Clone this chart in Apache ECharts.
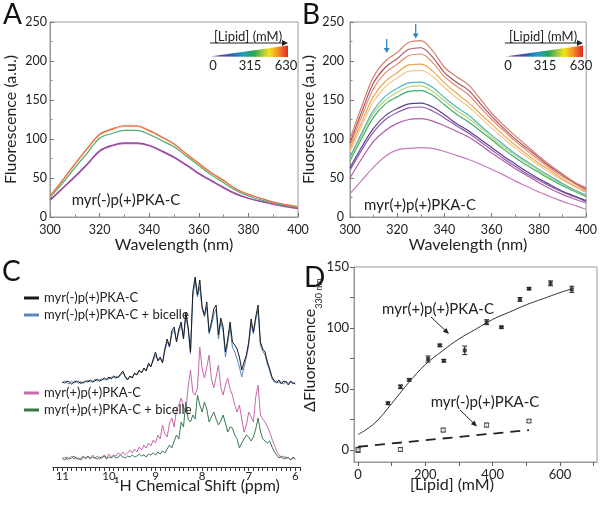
<!DOCTYPE html>
<html><head><meta charset="utf-8">
<script src="https://cdn.jsdelivr.net/npm/echarts@6/dist/echarts.min.js"></script>
<style>html,body{margin:0;padding:0;background:#fff}#c{width:600px;height:505px}</style>
</head><body><div id="c"></div>
<script>
// ---------- Panel A / B : fluorescence spectra ----------
const wavelengths = [300,305,310,315,320,325,330,335,340,345,350,355,360,365,370,375,380,385,390,395,400];
const aRed     = [27,47,68,88,106,113,117,117,111,103,94,81,69,57,47,36,29,24,19,16,13];
const aOrange  = [26,46,67,87,105,112,116,116,110,102,93,80,68,56,46,36,29,24,19,16,13];
const aGreen   = [25,43,63,82,101,107,111,111,106,98,90,78,66,54,44,34,27,22,18,15,12];
const aPurple  = [22,37,52,68,85,92,95,95,92,85,77,67,56,47,38,30,24,20,17,14,11];
const aMagenta = [21,36,51,67,84,91,94,94,91,84,76,66,55,46,37,29,24,20,16,13,11];

const bC1  = [100,142,180,200,211,224,226,213,192,180,170,152,133,118,104,91,78,66,55,45,38];
const bC2  = [95,135,172,192,203,215,217,205,185,173,163,146,129,114,100,88,76,64,54,44,36];
const bC3  = [91,129,165,185,196,207,209,198,180,168,157,141,125,111,97,85,73,62,52,43,34];
const bC4  = [87,122,155,174,185,195,196,187,172,159,147,133,119,105,92,80,69,59,49,40,32];
const bC5  = [83,117,148,167,178,187,188,180,166,153,142,128,114,101,88,77,66,56,47,39,31];
const bC6  = [77,108,137,155,165,172,173,166,153,141,131,118,105,93,81,71,61,52,43,35,28];
const bC7  = [75,105,133,150,160,167,168,161,149,137,127,115,102,90,79,69,59,50,42,34,27];
const bC8  = [72,101,128,145,154,161,162,156,144,132,122,111,99,87,76,66,57,48,40,33,26];
const bC9  = [63,90,114,130,139,145,146,141,131,120,111,100,89,78,68,58,49,41,33,27,21];
const bC10 = [60,86,109,125,134,140,141,136,127,117,108,97,86,75,65,55,47,39,32,26,20];
const bC11 = [50,75,97,111,120,125,126,123,117,110,103,93,82,72,62,53,44,36,29,23,18];
const bC12 = [30,47,64,78,86,88,89,88,84,79,74,68,61,54,46,39,32,26,20,15,10];

const colorbarLabels = ['0','315','630'];

// ---------- Panel C : 1H NMR spectra ----------
const ppm = [11,10.95,10.9,10.85,10.8,10.75,10.7,10.65,10.6,10.55,10.5,10.45,10.4,10.35,10.3,10.25,10.2,10.15,10.1,10.05,10,9.95,9.9,9.85,9.8,9.75,9.7,9.65,9.6,9.55,9.5,9.45,9.4,9.35,9.3,9.25,9.2,9.15,9.1,9.05,9,8.95,8.9,8.85,8.8,8.75,8.7,8.65,8.6,8.55,8.5,8.45,8.4,8.35,8.3,8.25,8.2,8.15,8.1,8.05,8,7.95,7.9,7.85,7.8,7.75,7.7,7.65,7.6,7.55,7.5,7.45,7.4,7.35,7.3,7.25,7.2,7.15,7.1,7.05,7,6.95,6.9,6.85,6.8,6.75,6.7,6.65,6.6,6.55,6.5,6.45,6.4,6.35,6.3,6.25,6.2,6.15,6.1,6.05,6];
const nmrMyrMinus = [85,84,86,85,83,85,86,84,85,84,86,85,87,85,86,88,86,87,89,87,90,88,91,89,90,93,96,90,87,91,89,94,92,97,94,99,96,104,100,108,115,106,110,104,118,128,120,136,140,125,138,145,128,155,140,115,175,190,172,187,160,152,165,135,145,158,162,132,149,140,115,128,145,125,122,118,110,97,105,112,125,148,135,150,162,125,118,115,105,98,90,86,84,87,83,86,85,82,86,84,83];
const nmrMyrMinusBicelle = [84,86,84,83,86,84,85,86,83,85,85,87,85,86,88,86,87,88,87,89,88,90,89,91,89,92,94,91,88,90,90,93,93,96,95,98,97,102,101,106,112,107,108,105,116,125,121,133,137,126,135,142,129,150,138,113,170,186,170,180,158,150,160,133,142,152,158,128,145,136,110,124,140,120,115,108,100,90,100,110,122,143,133,147,157,122,116,112,103,96,88,85,86,84,85,83,86,84,85,83,85];
const nmrMyrPlus = [8,10,7,9,11,8,10,7,9,11,8,10,9,12,9,11,8,10,12,9,13,10,12,11,14,12,15,12,14,17,14,18,15,20,17,22,19,24,21,27,24,32,28,42,33,30,44,49,40,58,62,69,60,55,80,97,75,72,79,120,98,89,100,112,88,79,90,102,80,72,82,89,78,72,62,55,62,48,35,42,55,50,45,70,82,52,48,45,40,35,28,22,16,12,9,11,8,10,7,9,8];
const nmrMyrPlusBicelle = [9,7,10,8,9,11,8,9,7,10,9,11,8,10,9,8,10,9,11,8,10,9,11,9,10,12,10,9,11,10,12,10,11,13,11,12,10,13,12,14,12,15,13,16,14,18,22,19,26,32,28,45,40,65,48,45,52,48,72,62,55,65,58,45,50,55,48,42,46,52,44,35,40,39,32,28,19,24,28,32,30,26,30,38,49,36,28,26,24,26,20,15,12,9,11,8,10,9,7,10,8];
const ppmTickLabels = [6,7,8,9,10,11];
const cLegendTop = ['myr(-)p(+)PKA-C','myr(-)p(+)PKA-C + bicelle'];
const cLegendBottom = ['myr(+)p(+)PKA-C','myr(+)p(+)PKA-C + bicelle'];

// ---------- Panel D : titration ----------
const dPlusX   = [0,89,126,152,208,243,255,317,382,426,481,508,572,635];
const dPlusY   = [0,38.2,51.7,57.4,74.5,85.7,73.1,81.6,104.7,100.6,123.4,132.2,136.6,131.7];
const dPlusErr = [1.5,1,1.5,1,2.5,1,1,3.5,2,0.8,1.5,0.8,2,2.5];
const dMinusX   = [0,126,253,382,508];
const dMinusY   = [0,0.3,16.2,20.3,23.6];
const dMinusErr = [2,1.5,1.5,1.5,1.2];
const dFitX = [0,50,100,150,200,250,300,350,400,450,500,550,600,635];
const dFitY = [12.5,22,38,55,70,81,91,99,107,113,119,124,129,132];
const dLinX = [0,508];
const dLinY = [2.5,16.2];
const dXLabels = [0,200,400,600];
const dXTicks = [0,100,200,300,400,500,600,700];
const dYLabels = [0,50,100,150];
const dYTicks = [0,25,50,75,100,125,150];

// ---------------------------------------------------------
const FONT = "Lato, 'Open Sans', sans-serif";
const chart = echarts.init(document.getElementById('c'), null, {renderer:'canvas'});

function pairs(xs, ys){ return xs.map((x,i)=>[x, ys[i]]); }

function specAxisX(gi){
  return {type:'value', gridIndex:gi, min:300, max:400, interval:20,
    axisLine:{show:true, lineStyle:{color:'#999', width:1}},
    axisTick:{inside:true, length:4, lineStyle:{color:'#777'}},
    minorTick:{show:true, splitNumber:2, length:2.5, lineStyle:{color:'#888'}},
    splitLine:{show:false},
    axisLabel:{color:'#222', fontSize:12.5, fontFamily:FONT, margin:6},
    name:'Wavelength (nm)', nameLocation:'middle', nameGap:19,
    nameTextStyle:{fontSize:16, color:'#222', fontFamily:FONT}};
}
function specAxisY(gi, gap, margin){
  return {type:'value', gridIndex:gi, min:0, max:250, interval:50,
    axisLine:{show:true, lineStyle:{color:'#999', width:1}},
    axisTick:{inside:true, length:4, lineStyle:{color:'#777'}},
    minorTick:{show:true, splitNumber:2, length:2.5, lineStyle:{color:'#888'}},
    splitLine:{show:false},
    axisLabel:{color:'#222', fontSize:12.5, fontFamily:FONT, margin:margin},
    name:'Fluorescence (a.u.)', nameLocation:'middle', nameGap:gap,
    nameTextStyle:{fontSize:16, color:'#222', fontFamily:FONT}};
}
function specLine(gi, xs, ys, color){
  return {type:'line', xAxisIndex:gi, yAxisIndex:gi, data:pairs(xs, ys), smooth:0.35,
    showSymbol:false, silent:true, lineStyle:{color:color, width:1.2}, itemStyle:{color:color}};
}
function nmrLine(name, ys, color){
  return {name:name, type:'line', xAxisIndex:2, yAxisIndex:2, data:pairs(ppm, ys),
    showSymbol:false, silent:true, lineStyle:{color:color, width:1}, itemStyle:{color:color}};
}

function arrow(x1,y1,x2,y2,color,hl,hw,lw){
  const a = Math.atan2(y2-y1, x2-x1);
  const bx = x2 - hl*Math.cos(a), by = y2 - hl*Math.sin(a);
  const px = -Math.sin(a)*hw, py = Math.cos(a)*hw;
  return [
    {type:'line', shape:{x1:x1,y1:y1,x2:bx+Math.cos(a)*1,y2:by+Math.sin(a)*1}, style:{stroke:color, lineWidth:lw}},
    {type:'polygon', shape:{points:[[x2,y2],[bx+px,by+py],[bx-px,by-py]]}, style:{fill:color}}
  ];
}
function colorbar(dx){
  const grad = new echarts.graphic.LinearGradient(0,0,1,0,[
    {offset:0, color:'#c9b3d6'},{offset:0.1, color:'#6a3f95'},{offset:0.28, color:'#2b5fae'},
    {offset:0.42, color:'#1f9fc0'},{offset:0.56, color:'#27a454'},{offset:0.68, color:'#a6cc3a'},
    {offset:0.76, color:'#f2e31b'},{offset:0.86, color:'#f39a25'},{offset:1, color:'#e42527'}]);
  const els = [
    {type:'text', x:248+dx, y:37, style:{text:'[Lipid] (mM)', fontSize:13, fontFamily:FONT, fill:'#222', align:'center', verticalAlign:'middle'}},
    {type:'polygon', shape:{points:[[210+dx,56.5],[288+dx,45.5],[288+dx,57]]}, style:{fill:grad}},
    {type:'text', x:213+dx, y:65.5, style:{text:colorbarLabels[0], fontSize:13, fontFamily:FONT, fill:'#222', align:'center', verticalAlign:'middle'}},
    {type:'text', x:250+dx, y:65.5, style:{text:colorbarLabels[1], fontSize:13, fontFamily:FONT, fill:'#222', align:'center', verticalAlign:'middle'}},
    {type:'text', x:286+dx, y:65.5, style:{text:colorbarLabels[2], fontSize:13, fontFamily:FONT, fill:'#222', align:'center', verticalAlign:'middle'}}
  ];
  return els.concat(arrow(210+dx,43,288+dx,43,'#222',6,3,1));
}
function panelLetter(t,x,y){
  return {type:'text', x:x, y:y, style:{text:t, fontSize:28, fontFamily:FONT, fill:'#111', align:'left', verticalAlign:'middle'}};
}

const errBars = (xs, ys, es) => ({
  type:'custom', xAxisIndex:3, yAxisIndex:3, silent:true,
  data: xs.map((x,i)=>[x, ys[i], es[i]]), encode:{x:0, y:1},
  renderItem(params, api){
    const x = api.value(0), y = api.value(1), e = api.value(2);
    const hi = api.coord([x, y+e]), lo = api.coord([x, y-e]);
    const w = 2.5, st = {stroke:'#222', lineWidth:1};
    return {type:'group', children:[
      {type:'line', shape:{x1:hi[0],y1:hi[1],x2:lo[0],y2:lo[1]}, style:st},
      {type:'line', shape:{x1:hi[0]-w,y1:hi[1],x2:hi[0]+w,y2:hi[1]}, style:st},
      {type:'line', shape:{x1:lo[0]-w,y1:lo[1],x2:lo[0]+w,y2:lo[1]}, style:st}
    ]};
  }
});

const ppmTicks = (function(){const t=[];for(let k=59;k<=112;k++)t.push(k/10);return t;})();

const legendBase = {orient:'vertical', itemWidth:15, itemHeight:3, itemGap:3, icon:'rect', padding:0,
  selectedMode:false, textStyle:{fontFamily:FONT, fontSize:13, color:'#222', lineHeight:14}};

const option = {
  animation:false,
  backgroundColor:'#fff',
  textStyle:{fontFamily:FONT},
  legend:[
    Object.assign({}, legendBase, {data:cLegendTop, left:24, top:291}),
    Object.assign({}, legendBase, {data:cLegendBottom, left:24, top:386})
  ],
  grid:[
    {left:50, top:22, right:302, bottom:288, show:true, borderColor:'#999', borderWidth:1, backgroundColor:'transparent'},
    {left:350, top:22, right:8, bottom:288, show:true, borderColor:'#999', borderWidth:1, backgroundColor:'transparent'},
    {left:53, top:267, right:300, bottom:38},
    {left:354, top:267, right:3, bottom:43, show:true, borderColor:'#999', borderWidth:1, backgroundColor:'transparent'}
  ],
  xAxis:[
    specAxisX(0),
    specAxisX(1),
    {type:'value', gridIndex:2, min:5.9, max:11.2, inverse:true, position:'bottom',
      axisLine:{show:true, onZero:false, lineStyle:{color:'#333', width:1}},
      axisTick:{show:true, inside:false, length:4, lineStyle:{color:'#333'}, customValues:ppmTicks},
      axisLabel:{customValues:ppmTickLabels, color:'#222', fontSize:11.5, fontFamily:FONT, margin:3},
      splitLine:{show:false}},
    {type:'value', gridIndex:3, min:-12, max:710,
      axisLine:{show:true, onZero:false, lineStyle:{color:'#999'}},
      axisTick:{show:true, inside:false, length:4, lineStyle:{color:'#666'}, customValues:dXTicks},
      axisLabel:{customValues:dXLabels, color:'#222', fontSize:13, fontFamily:FONT, margin:6},
      splitLine:{show:false}}
  ],
  yAxis:[
    specAxisY(0, 31, 3),
    specAxisY(1, 33, 6),
    {type:'value', gridIndex:2, min:0, max:200, show:false},
    {type:'value', gridIndex:3, min:-10, max:150,
      axisLine:{show:true, onZero:false, lineStyle:{color:'#999'}},
      axisTick:{show:true, inside:false, length:4, lineStyle:{color:'#666'}, customValues:dYTicks},
      axisLabel:{customValues:dYLabels, color:'#222', fontSize:13, fontFamily:FONT, margin:5},
      splitLine:{show:false}}
  ],
  series:[
    specLine(0, wavelengths, aMagenta, '#c45db3'),
    specLine(0, wavelengths, aPurple,  '#8a4aa0'),
    specLine(0, wavelengths, aGreen,   '#4bab72'),
    specLine(0, wavelengths, aOrange,  '#f0b05a'),
    specLine(0, wavelengths, aRed,     '#e56e55'),

    specLine(1, wavelengths, bC12, '#c77bbd'),
    specLine(1, wavelengths, bC11, '#b15ca8'),
    specLine(1, wavelengths, bC10, '#8d5aab'),
    specLine(1, wavelengths, bC9,  '#5d3f8e'),
    specLine(1, wavelengths, bC8,  '#3fae6c'),
    specLine(1, wavelengths, bC7,  '#b5d46e'),
    specLine(1, wavelengths, bC6,  '#4fb4c2'),
    specLine(1, wavelengths, bC5,  '#f5c88e'),
    specLine(1, wavelengths, bC4,  '#efa750'),
    specLine(1, wavelengths, bC3,  '#e58b6c'),
    specLine(1, wavelengths, bC2,  '#a9556b'),
    specLine(1, wavelengths, bC1,  '#d6806c'),

    nmrLine(cLegendTop[1], nmrMyrMinusBicelle, '#5b87bd'),
    nmrLine(cLegendTop[0], nmrMyrMinus, '#1a1a1a'),
    nmrLine(cLegendBottom[0], nmrMyrPlus, '#c86aab'),
    nmrLine(cLegendBottom[1], nmrMyrPlusBicelle, '#3b7850'),

    {type:'line', xAxisIndex:3, yAxisIndex:3, data:pairs(dFitX, dFitY), smooth:0.4, showSymbol:false, silent:true,
      lineStyle:{color:'#333', width:1}},
    {type:'line', xAxisIndex:3, yAxisIndex:3, data:pairs(dLinX, dLinY), showSymbol:false, silent:true,
      lineStyle:{color:'#222', width:1.8, type:[10,7]}},
    errBars(dPlusX, dPlusY, dPlusErr),
    errBars(dMinusX, dMinusY, dMinusErr),
    {type:'scatter', xAxisIndex:3, yAxisIndex:3, data:pairs(dPlusX, dPlusY), symbol:'rect', symbolSize:4, silent:true,
      itemStyle:{color:'#222'}},
    {type:'scatter', xAxisIndex:3, yAxisIndex:3, data:pairs(dMinusX, dMinusY), symbol:'rect', symbolSize:4, silent:true,
      itemStyle:{color:'#fff', borderColor:'#333', borderWidth:1}}
  ],
  graphic:[].concat(
    [panelLetter('A',3,15), panelLetter('B',302,15), panelLetter('C',2,272), panelLetter('D',304,278)],
    colorbar(0), colorbar(295),
    [
      {type:'text', x:126, y:200, style:{text:'myr(-)p(+)PKA-C', fontSize:15, fontFamily:FONT, fill:'#222', align:'center', verticalAlign:'middle'}},
      {type:'text', x:420, y:205, style:{text:'myr(+)p(+)PKA-C', fontSize:15, fontFamily:FONT, fill:'#222', align:'center', verticalAlign:'middle'}},
      {type:'text', x:197, y:486, style:{text:'\u00B9H Chemical Shift (ppm)', fontSize:16, fontFamily:FONT, fill:'#222', align:'center', verticalAlign:'middle'}},
      {type:'text', x:452, y:485, style:{text:'[Lipid] (mM)', fontSize:16, fontFamily:FONT, fill:'#222', align:'center', verticalAlign:'middle'}},
      {type:'text', x:313, y:345, rotation:Math.PI/2,
        style:{text:'{a|\u0394Fluorescence}{b|330 nm}{s| }', align:'center', verticalAlign:'middle',
          rich:{a:{fontSize:16, fontFamily:FONT, fill:'#222', verticalAlign:'top', lineHeight:18},
                b:{fontSize:9, fontFamily:FONT, fill:'#222', verticalAlign:'bottom', lineHeight:9},
                s:{fontSize:1, lineHeight:22, verticalAlign:'bottom'}}}},
      {type:'text', x:438, y:309, style:{text:'myr(+)p(+)PKA-C', fontSize:15, fontFamily:FONT, fill:'#222', align:'center', verticalAlign:'middle'}},
      {type:'text', x:485, y:402, style:{text:'myr(-)p(+)PKA-C', fontSize:15, fontFamily:FONT, fill:'#222', align:'center', verticalAlign:'middle'}}
    ],
    arrow(431,317,449,334,'#222',6,2.6,1),
    arrow(460,410,477,426.5,'#222',6,2.6,1),
    arrow(386.7,39,386.7,53,'#2f86c0',5,3,1.3),
    arrow(415.7,24,415.7,38.5,'#2f86c0',5,3,1.3)
  )
};
chart.setOption(option);
</script>
</body></html>
